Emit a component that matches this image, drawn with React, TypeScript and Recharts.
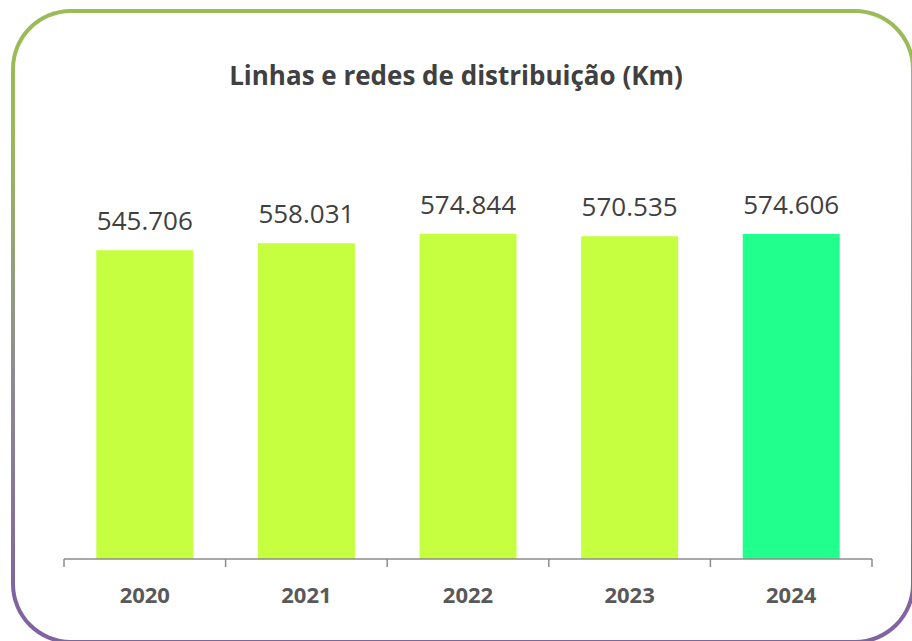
import { BarChart, Bar, XAxis, YAxis, Cell, LabelList } from "recharts";

const years = ["2020", "2021", "2022", "2023", "2024"];
const km = [545706, 558031, 574844, 570535, 574606];
const barColors = ["#C5FF3F", "#C5FF3F", "#C5FF3F", "#C5FF3F", "#21FF8D"];

const data = years.map((year, i) => ({ year, km: km[i] }));

const W = 912;
const H = 641;
const M = { top: 163, right: 40, bottom: 42, left: 64 };
const AXIS_H = 40;
const TICK_SIZE = 8;
const TICK_MARGIN = 20;
const band = (W - M.left - M.right) / years.length;

const fmt = (v: number) => v.toLocaleString("de-DE");

const YearTick = (props: any) => {
  const { x, y, payload, index } = props;
  const axisY = y - TICK_SIZE - TICK_MARGIN;
  return (
    <g>
      <line x1={x - band / 2} x2={x - band / 2} y1={axisY} y2={axisY + TICK_SIZE} stroke="#8c8c8c" strokeWidth={1.5} />
      {index === years.length - 1 && (
        <line x1={x + band / 2} x2={x + band / 2} y1={axisY} y2={axisY + TICK_SIZE} stroke="#8c8c8c" strokeWidth={1.5} />
      )}
      <text x={x} y={y} dy="0.71em" textAnchor="middle" fill="#595959" fontSize={22} fontWeight={700} fontFamily="'Open Sans', sans-serif">
        {payload.value}
      </text>
    </g>
  );
};

export default function App() {
  return (
    <div style={{ position: "relative", width: W, height: H, overflow: "hidden", background: "#fff" }}>
      <style>{"body{margin:0;overflow:hidden}"}</style>
      {/* rounded card with green-to-purple border */}
      <div
        style={{
          position: "absolute",
          left: 11,
          top: 9,
          width: 904,
          height: 635,
          borderRadius: 60,
          padding: 4,
          boxSizing: "border-box",
          background: "linear-gradient(to bottom, #9BBB59 0%, #9BBB59 18%, #8F8F8F 55%, #8064A2 92%)",
        }}
      >
        <div style={{ width: "100%", height: "100%", borderRadius: 56, background: "#fff" }} />
      </div>
      <div
        style={{
          position: "absolute",
          left: 0,
          top: 57,
          width: W,
          textAlign: "center",
          fontFamily: "'Open Sans', sans-serif",
          fontWeight: 700,
          fontSize: 26,
          color: "#404040",
        }}
      >
        Linhas e redes de distribuição (Km)
      </div>
      <div style={{ position: "absolute", left: 0, top: 0 }}>
        <BarChart width={W} height={H} data={data} margin={M} barCategoryGap="20%">
          <XAxis
            dataKey="year"
            height={AXIS_H}
            axisLine={{ stroke: "#8c8c8c", strokeWidth: 1.5 }}
            tickLine={false}
            tickSize={TICK_SIZE}
            tickMargin={TICK_MARGIN}
            tick={<YearTick />}
            interval={0}
          />
          <YAxis hide domain={[0, 700000]} />
          <Bar dataKey="km" isAnimationActive={false}>
            {data.map((d, i) => (
              <Cell key={d.year} fill={barColors[i]} />
            ))}
            <LabelList
              dataKey="km"
              position="top"
              offset={20}
              formatter={(v: any) => fmt(Number(v))}
              fill="#404040"
              fontSize={26}
              fontFamily="'Open Sans', sans-serif"
            />
          </Bar>
        </BarChart>
      </div>
    </div>
  );
}
